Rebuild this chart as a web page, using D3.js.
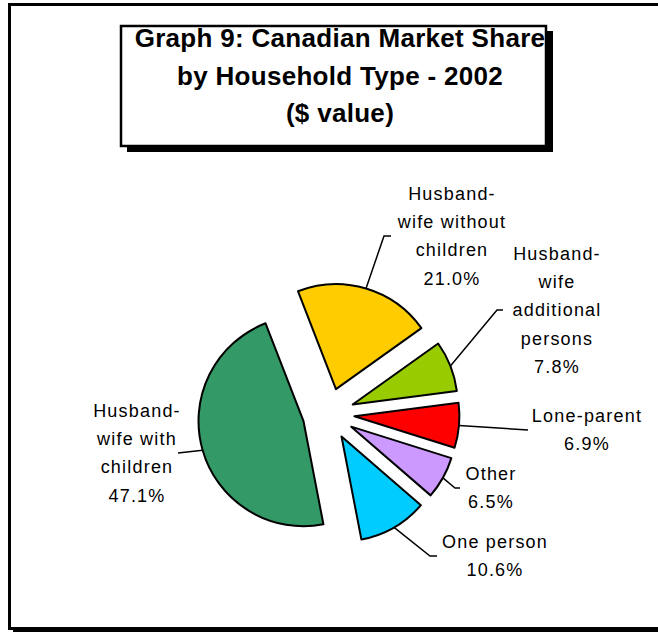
<!DOCTYPE html>
<html>
<head>
<meta charset="utf-8">
<script src="https://cdn.jsdelivr.net/npm/d3@7"></script>
<style>
  html, body { margin: 0; padding: 0; background: #fff; }
  svg { display: block; font-family: "Liberation Sans", Arial, sans-serif; }
</style>
</head>
<body>
<svg id="chart" width="658" height="632"></svg>
<script>
// data, clockwise from the top-right
var categories = ["Husband-wife without children", "Husband-wife additional persons", "Lone-parent", "Other", "One person", "Husband-wife with children"];
var shares = [21.0, 7.8, 6.9, 6.5, 10.6, 47.1];
var labelLines = [
    ["Husband-", "wife without", "children"],
    ["Husband-", "wife", "additional", "persons"],
    ["Lone-parent"],
    ["Other"],
    ["One person"],
    ["Husband-", "wife with", "children"]
];
var titleLines = ["Graph 9: Canadian Market Share", "by Household Type - 2002", "($ value)"];

var colors = ["#ffcc00", "#99cc00", "#ff0000", "#cc99ff", "#00ccff", "#339966"];

// label layout: text centre x, first baseline y, leader elbow x/y, leader end x
var labelPos = [
    {x: 452, y: 200, bx: 384, by: 236, ex: 391},
    {x: 557, y: 260, bx: 497, by: 310, ex: 503},
    {x: 587, y: 422, bx: 528, by: 430, ex: 528},
    {x: 491, y: 480, bx: 455, by: 488, ex: 460},
    {x: 495, y: 548, bx: 430, by: 556, ex: 437},
    {x: 137, y: 417, bx: 178, by: 453, ex: 178}
];

var svg = d3.select("#chart");

// outer frame with shadow on the bottom
svg.append("rect").attr("x", 13).attr("y", 628).attr("width", 700).attr("height", 5).attr("fill", "#000");
svg.append("rect")
    .attr("x", 9.5).attr("y", 4.5).attr("width", 700).attr("height", 624)
    .attr("fill", "#fff").attr("stroke", "#000").attr("stroke-width", 3);

// title box
svg.append("rect").attr("x", 127).attr("y", 31).attr("width", 426).attr("height", 121).attr("fill", "#000");
svg.append("rect")
    .attr("x", 121).attr("y", 26).attr("width", 425).attr("height", 120)
    .attr("fill", "#fff").attr("stroke", "#000").attr("stroke-width", 2.5);

svg.append("g").selectAll("text")
    .data(titleLines)
    .enter().append("text")
    .attr("x", 340)
    .attr("y", function(d, i) { return 47 + i * 37.5; })
    .attr("text-anchor", "middle")
    .attr("font-size", 26)
    .attr("font-weight", "bold")
    .attr("letter-spacing", 0.3)
    .text(function(d) { return d; });

// pie
var cx = 328.5, cy = 414, radius = 105, explode = 26;
var start = -21.2 * Math.PI / 180;

var pie = d3.pie()
    .sort(null)
    .startAngle(start)
    .endAngle(start + 2 * Math.PI)
    .value(function(d) { return d; });

var arc = d3.arc().innerRadius(0).outerRadius(radius);

var arcs = pie(shares);

function offset(d) {
    var m = (d.startAngle + d.endAngle) / 2;
    return [Math.sin(m) * explode, -Math.cos(m) * explode];
}

var graph = svg.append("g").attr("transform", "translate(" + cx + "," + cy + ")");

graph.selectAll(".slice")
    .data(arcs)
    .enter().append("path")
    .attr("class", "slice")
    .attr("transform", function(d) { var o = offset(d); return "translate(" + o[0] + "," + o[1] + ")"; })
    .attr("d", arc)
    .attr("fill", function(d, i) { return colors[i]; })
    .attr("stroke", "#000")
    .attr("stroke-width", 2)
    .attr("stroke-linejoin", "round");

// leader lines from the middle of each outer edge
var line = d3.line();
svg.append("g").selectAll("path")
    .data(arcs)
    .enter().append("path")
    .attr("d", function(d, i) {
        var m = (d.startAngle + d.endAngle) / 2, o = offset(d), p = labelPos[i];
        var sx = cx + o[0] + Math.sin(m) * radius,
            sy = cy + o[1] - Math.cos(m) * radius;
        return line([[sx, sy], [p.bx, p.by], [p.ex, p.by]]);
    })
    .attr("fill", "none")
    .attr("stroke", "#000")
    .attr("stroke-width", 1.5);

// labels
var labels = svg.append("g").selectAll("text")
    .data(arcs)
    .enter().append("text")
    .attr("text-anchor", "middle")
    .attr("font-size", 18)
    .attr("letter-spacing", 1.2)
    .attr("fill", "#000");

labels.each(function(d, i) {
    var p = labelPos[i];
    var lines = labelLines[i].concat([d3.format(".1f")(shares[i]) + "%"]);
    d3.select(this).selectAll("tspan")
        .data(lines)
        .enter().append("tspan")
        .attr("x", p.x)
        .attr("y", function(t, j) { return p.y + j * 28.2; })
        .text(function(t) { return t; });
});
</script>
</body>
</html>
